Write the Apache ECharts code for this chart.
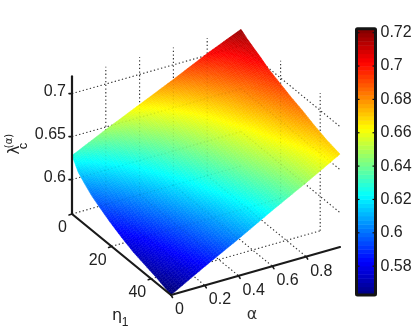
<!DOCTYPE html>
<html><head><meta charset="utf-8">
<style>html,body{margin:0;padding:0;background:#fff}#c{width:415px;height:332px;filter:blur(0.45px)}</style>
<script src="https://cdn.jsdelivr.net/npm/echarts@6/dist/echarts.min.js"></script>
</head><body><div id="c"></div>
<script>
// ---- data ----
var alphaValues = [0, 0.2, 0.4, 0.6, 0.8, 1];
var etaValues = [0, 3, 6, 10, 14, 19, 25, 31, 37, 43, 50];
var row0  = [.628,.647,.665,.683,.702,.719];
var row3  = [.615,.636,.656,.676,.695,.714];
var row6  = [.608,.629,.650,.670,.690,.710];
var row10 = [.600,.621,.642,.663,.684,.705];
var row14 = [.594,.615,.636,.657,.678,.699];
var row19 = [.587,.608,.630,.651,.673,.694];
var row25 = [.580,.602,.623,.645,.666,.688];
var row31 = [.574,.596,.618,.639,.661,.683];
var row37 = [.570,.591,.612,.634,.655,.677];
var row43 = [.566,.587,.608,.629,.650,.672];
var row50 = [.560,.582,.603,.625,.646,.668];
var surface = [row0,row3,row6,row10,row14,row19,row25,row31,row37,row43,row50];
var alphaTicks = [0,0.2,0.4,0.6,0.8];
var etaTicks = [0,20,40];
var zTicks = [0.6,0.65,0.7];
var colorbarTicks = [0.58,0.6,0.62,0.64,0.66,0.68,0.7,0.72];
var colorMin = 0.5627, colorMax = 0.7224;

// ---- 3D view (orthographic) ----
var origin=[72,214], alphaMax=1, etaMax=50, zBase=0.56, zTop=0.72;
var alphaVec=[169,-48], etaVec=[99,81], zScale=860;
function proj(a,e,z){
  var s=a/alphaMax,t=e/etaMax;
  return [origin[0]+alphaVec[0]*s+etaVec[0]*t, origin[1]+alphaVec[1]*s+etaVec[1]*t-(z-zBase)*zScale];
}
function jet(v){
  v=Math.max(0,Math.min(1,v));
  function c(x){return Math.round(255*Math.max(0,Math.min(1,x)));}
  return 'rgb('+c(1.5-Math.abs(4*v-3))+','+c(1.5-Math.abs(4*v-2))+','+c(1.5-Math.abs(4*v-1))+')';
}
function colorOf(z){return jet((z-colorMin)/(colorMax-colorMin));}

// grid lines
var gridSegments=[];
alphaTicks.forEach(function(a){
  if(a>0){
    gridSegments.push([proj(a,0,zBase),proj(a,0,zTop)]);
    gridSegments.push([proj(a,0,zBase),proj(a,etaMax,zBase)]);
  }
});
etaTicks.forEach(function(e){
  gridSegments.push([proj(0,e,zBase),proj(alphaMax,e,zBase)]);
  if(e>0) gridSegments.push([proj(alphaMax,e,zBase),proj(alphaMax,e,zTop)]);
});
zTicks.forEach(function(z){
  gridSegments.push([proj(0,0,z),proj(alphaMax,0,z)]);
  gridSegments.push([proj(alphaMax,0,z),proj(alphaMax,etaMax,z)]);
});

var cells=[];
for(var i=0;i<etaValues.length-1;i++)for(var j=0;j<alphaValues.length-1;j++)cells.push([i,j]);
var SUBA=12,SUBE=8;

function renderCell(p,api){
  var i=api.value(0),j=api.value(1),kids=[];
  var e0=etaValues[i],e1=etaValues[i+1],a0=alphaValues[j],a1=alphaValues[j+1];
  var z00=surface[i][j],z01=surface[i][j+1],z10=surface[i+1][j],z11=surface[i+1][j+1];
  function P(u,v){
    var z=(1-v)*((1-u)*z00+u*z01)+v*((1-u)*z10+u*z11);
    var q=proj(a0+(a1-a0)*u,e0+(e1-e0)*v,z);
    return {pt:api.coord(q),z:z};
  }
  for(var v=0;v<SUBE;v++)for(var u=0;u<SUBA;u++){
    var A=P(u/SUBA,v/SUBE),B=P((u+1)/SUBA,v/SUBE),C=P((u+1)/SUBA,(v+1)/SUBE),D=P(u/SUBA,(v+1)/SUBE);
    var col=colorOf((A.z+B.z+C.z+D.z)/4);
    kids.push({type:'polygon',shape:{points:[A.pt,B.pt,C.pt,D.pt]},style:{fill:col,stroke:col,lineWidth:0.5}});
  }
  return {type:'group',children:kids};
}
function segShape(s,api){var a=api.coord(s[0]),b=api.coord(s[1]);return {x1:a[0],y1:a[1],x2:b[0],y2:b[1]};}
function gridRender(color,op){
  return function(p,api){
    var s=gridSegments[api.value(0)];
    return {type:'line',shape:segShape(s,api),style:{stroke:color,lineWidth:1.1,lineDash:[1.3,2.4],opacity:op}};
  };
}
var axisItems=[];
axisItems.push({k:'axis',s:[proj(0,0,zBase),proj(0,0,zTop)]});
axisItems.push({k:'axis',s:[proj(0,0,zBase),proj(0,etaMax,zBase)]});
axisItems.push({k:'axis',s:[proj(0,etaMax,zBase),proj(alphaMax,etaMax,zBase)]});
zTicks.forEach(function(z){var q=proj(0,0,z);
  axisItems.push({k:'tick',s:[q,[q[0]-3,q[1]]]});
  axisItems.push({k:'text',p:[q[0]-6,q[1]-2.5],t:String(z),a:'right'});});
etaTicks.forEach(function(e){var q=proj(0,e,zBase);
  axisItems.push({k:'tick',s:[q,[q[0]-3,q[1]+1]]});
  axisItems.push({k:'text',p:[q[0]-5,q[1]+14],t:String(e),a:'right'});});
alphaTicks.forEach(function(a){var q=proj(a,etaMax,zBase);
  axisItems.push({k:'tick',s:[q,[q[0]+1.5,q[1]+2.5]]});
  axisItems.push({k:'text',p:[q[0]+4,q[1]+14.5],t:String(a),a:'left'});});

function axisRender(p,api){
  var it=axisItems[api.value(0)];
  if(it.k==='text'){
    var c=api.coord(it.p);
    return {type:'text',x:c[0],y:c[1],style:{text:it.t,fill:'#222',font:'16px "Liberation Sans"',align:it.a,verticalAlign:'middle'}};
  }
  return {type:'line',shape:segShape(it.s,api),style:{stroke:'#1a1a1a',lineWidth:it.k==='axis'?2.2:1.6,lineCap:'round'}};
}

// colorbar
var bandCount=64,bands=[];
for(var b=0;b<bandCount;b++)bands.push([b]);
function bandRender(p,api){
  var b=api.value(0);
  var lo=colorMin+(colorMax-colorMin)*b/bandCount, hi=colorMin+(colorMax-colorMin)*(b+1)/bandCount;
  var a=api.coord([0,hi]),c=api.coord([1,lo]);
  return {type:'rect',shape:{x:a[0],y:a[1],width:c[0]-a[0],height:c[1]-a[1]+0.5},style:{fill:jet((b+0.5)/bandCount)}};
}
function frameRender(p,api){
  var v=api.value(0);
  if(v<0){
    var a=api.coord([0,colorMax]),c=api.coord([1,colorMin]);
    return {type:'rect',shape:{x:a[0],y:a[1],width:c[0]-a[0],height:c[1]-a[1],r:1},style:{fill:'none',stroke:'#141414',lineWidth:3,lineJoin:'round'}};
  }
  var l=api.coord([0,v]),r=api.coord([1,v]);
  return {type:'group',children:[
    {type:'line',shape:{x1:l[0],y1:l[1],x2:l[0]+3,y2:l[1]},style:{stroke:'#141414',lineWidth:1.2}},
    {type:'line',shape:{x1:r[0],y1:r[1],x2:r[0]-3,y2:r[1]},style:{stroke:'#141414',lineWidth:1.2}}]};
}
var frameData=[[-1]].concat(colorbarTicks.map(function(t){return [t];}));

var chart=echarts.init(document.getElementById('c'),null,{renderer:'canvas',width:415,height:332});
var sym='"DejaVu Sans"';
chart.setOption({
  animation:false,backgroundColor:'#fff',
  grid:[
    {left:0,top:0,width:415,height:332,show:false},
    {left:356.5,top:28.7,width:19,height:266.3,show:false}
  ],
  xAxis:[
    {gridIndex:0,type:'value',min:0,max:415,show:false},
    {gridIndex:1,type:'value',min:0,max:1,show:false}
  ],
  yAxis:[
    {gridIndex:0,type:'value',min:0,max:332,inverse:true,show:false},
    {gridIndex:1,type:'value',min:colorMin,max:colorMax,position:'right',
     axisLine:{show:false},axisTick:{show:false},splitLine:{show:false},
     axisLabel:{customValues:colorbarTicks,margin:5,color:'#222',fontSize:16,fontFamily:'Liberation Sans',
       formatter:function(v){return String(+v.toFixed(2));}}}
  ],
  series:[
    {type:'custom',xAxisIndex:0,yAxisIndex:0,coordinateSystem:'cartesian2d',clip:false,z:1,silent:true,
     data:gridSegments.map(function(s,i){return [i];}),encode:{x:[],y:[]},renderItem:gridRender('#333',1)},
    {type:'custom',name:'surface',xAxisIndex:0,yAxisIndex:0,coordinateSystem:'cartesian2d',clip:false,z:2,silent:true,
     data:cells,encode:{x:[],y:[]},renderItem:renderCell},
    {type:'custom',xAxisIndex:0,yAxisIndex:0,coordinateSystem:'cartesian2d',clip:false,z:3,silent:true,
     data:gridSegments.map(function(s,i){return [i];}),encode:{x:[],y:[]},renderItem:gridRender('#333',0.08)},
    {type:'custom',xAxisIndex:0,yAxisIndex:0,coordinateSystem:'cartesian2d',clip:false,z:4,silent:true,
     data:axisItems.map(function(s,i){return [i];}),encode:{x:[],y:[]},renderItem:axisRender},
    {type:'custom',xAxisIndex:1,yAxisIndex:1,coordinateSystem:'cartesian2d',clip:false,z:2,silent:true,
     data:bands,encode:{x:[],y:[]},renderItem:bandRender},
    {type:'custom',xAxisIndex:1,yAxisIndex:1,coordinateSystem:'cartesian2d',clip:false,z:3,silent:true,
     data:frameData,encode:{x:[],y:[]},renderItem:frameRender}
  ],
  graphic:[
    {type:'text',x:252,y:315,style:{text:'α',fill:'#333',font:'16px '+sym,align:'center',verticalAlign:'middle'}},
    {type:'text',x:117,y:316,style:{text:'η',fill:'#222',font:'16px '+sym,align:'center',verticalAlign:'middle'}},
    {type:'text',x:125,y:323,style:{text:'1',fill:'#222',font:'12px "Liberation Sans"',align:'center',verticalAlign:'middle'}},
    {type:'text',x:15,y:150,rotation:Math.PI/2,style:{text:'λ',fill:'#222',font:'15px '+sym,align:'center',verticalAlign:'middle'}},
    {type:'text',x:23,y:146,rotation:Math.PI/2,style:{text:'c',fill:'#222',font:'13px "Liberation Sans"',align:'center',verticalAlign:'middle'}},
    {type:'text',x:9,y:141,rotation:Math.PI/2,style:{text:'(α)',fill:'#222',font:'10px '+sym,align:'center',verticalAlign:'middle'}}
  ]
});
</script></body></html>
